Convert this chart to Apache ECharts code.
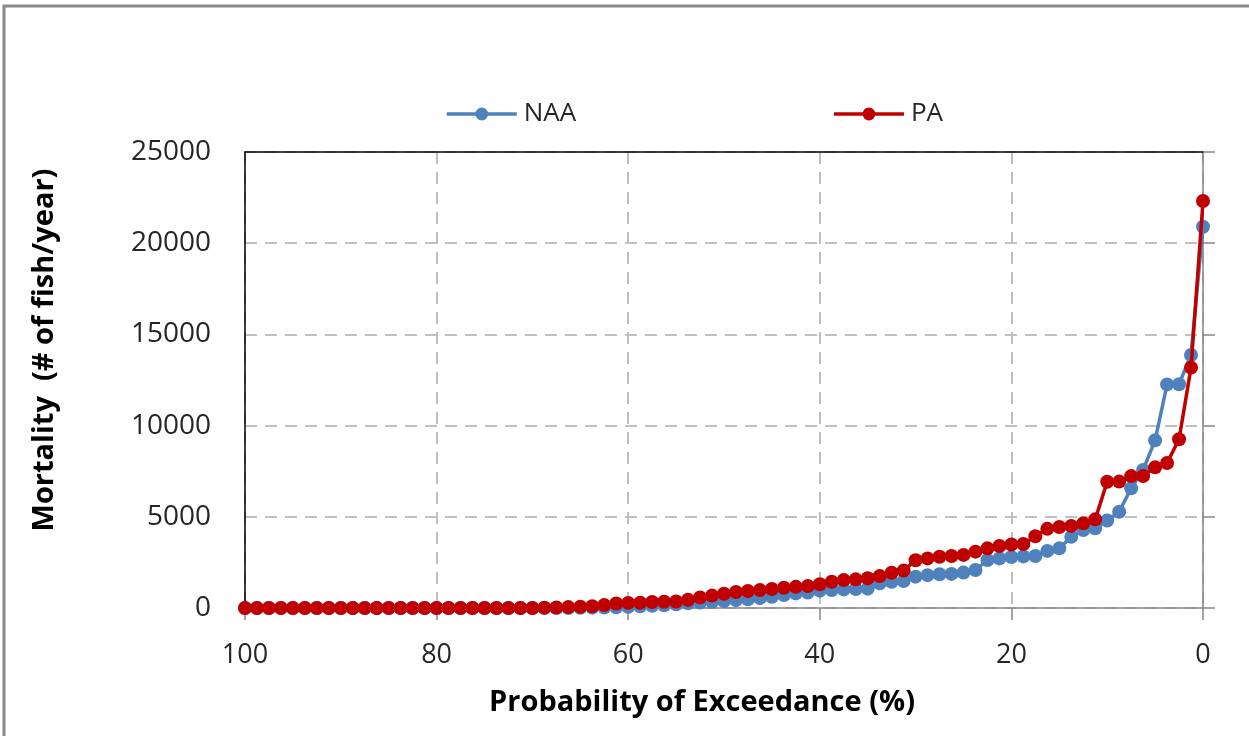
<!DOCTYPE html>
<html>
<head>
<meta charset="utf-8">
<script src="https://cdn.jsdelivr.net/npm/echarts@6/dist/echarts.min.js"></script>
<style>
html,body{margin:0;padding:0;background:#fff;}
#chart{width:1249px;height:736px;}
</style>
</head>
<body>
<div id="chart"></div>
<script>
// Probability of exceedance (%) for each ranked value
const exceedance = [100, 98.75, 97.5, 96.25, 95, 93.75, 92.5, 91.25, 90, 88.75,
  87.5, 86.25, 85, 83.75, 82.5, 81.25, 80, 78.75, 77.5, 76.25,
  75, 73.75, 72.5, 71.25, 70, 68.75, 67.5, 66.25, 65, 63.75,
  62.5, 61.25, 60, 58.75, 57.5, 56.25, 55, 53.75, 52.5, 51.25,
  50, 48.75, 47.5, 46.25, 45, 43.75, 42.5, 41.25, 40, 38.75,
  37.5, 36.25, 35, 33.75, 32.5, 31.25, 30, 28.75, 27.5, 26.25,
  25, 23.75, 22.5, 21.25, 20, 18.75, 17.5, 16.25, 15, 13.75,
  12.5, 11.25, 10, 8.75, 7.5, 6.25, 5, 3.75, 2.5, 1.25, 0];

const naa = [0, 0, 0, 0, 0, 0, 0, 0, 0, 0,
  0, 0, 0, 0, 0, 0, 0, 0, 0, 0,
  0, 0, 0, 0, 0, 0, 0, 0, 10, 20,
  30, 40, 60, 90, 120, 150, 200, 260, 300, 340,
  380, 430, 480, 540, 620, 710, 800, 850, 950, 990,
  1020, 1040, 1060, 1350, 1440, 1480, 1720, 1800, 1850, 1870,
  1940, 2080, 2630, 2720, 2800, 2830, 2850, 3130, 3270, 3900,
  4280, 4370, 4800, 5280, 6560, 7570, 9190, 12260, 12270, 13870,
  20900];

const pa = [0, 0, 0, 0, 0, 0, 0, 0, 0, 0,
  0, 0, 0, 0, 0, 0, 0, 0, 0, 0,
  0, 0, 0, 0, 0, 20, 30, 50, 70, 100,
  160, 250, 280, 290, 330, 345, 360, 450, 580, 680,
  780, 880, 930, 980, 1040, 1110, 1160, 1200, 1300, 1440,
  1530, 1570, 1630, 1750, 1930, 2050, 2620, 2720, 2810, 2850,
  2910, 3090, 3270, 3400, 3480, 3510, 3930, 4340, 4440, 4500,
  4640, 4860, 6920, 6930, 7230, 7240, 7710, 7950, 9250, 13180,
  22310];

const seriesNames = ['NAA', 'PA'];
const xTitle = 'Probability of Exceedance (%)';
const yTitle = 'Mortality  (# of fish/year)';

const chart = echarts.init(document.getElementById('chart'), null, {renderer: 'canvas'});
const font = '"Open Sans", "Liberation Sans", sans-serif';
const pair = (vals) => exceedance.map((x, i) => [x, vals[i]]);
const gridStyle = {color: '#c0c0c0', width: 2, type: [12, 8]};
const xScale = {type: 'value', min: 0, max: 100, interval: 20, inverse: true};
const yScale = {type: 'value', min: 0, max: 25000, interval: 5000};
const off = {axisLine: {show: false}, axisTick: {show: false}, axisLabel: {show: false}, splitLine: {show: false}};
const line = (color) => ({show: true, onZero: false, lineStyle: {color: color, width: 1.5}});

const option = {
  backgroundColor: '#ffffff',
  animation: false,
  graphic: [{
    type: 'rect', z: 100, silent: true,
    shape: {x: 4, y: 6, width: 1400, height: 900},
    style: {fill: 'none', stroke: '#8a8a8a', lineWidth: 3}
  }],
  legend: {
    data: seriesNames,
    left: 440, top: 96,
    itemWidth: 70, itemHeight: 16, itemGap: 256,
    lineStyle: {width: 3.5},
    textStyle: {fontFamily: font, fontSize: 26, color: '#262626', padding: [0, 0, 0, 2]}
  },
  grid: {
    left: 245, top: 152, right: 46, bottom: 128, containLabel: false
  },
  xAxis: [
    // gridlines (underneath)
    Object.assign({}, xScale, off, {position: 'bottom', z: 0,
      splitLine: {show: true, lineStyle: gridStyle}}),
    // bottom axis with labels
    Object.assign({}, xScale, {position: 'bottom', z: 2,
      name: xTitle, nameLocation: 'middle', nameGap: 80,
      nameTextStyle: {fontFamily: font, fontSize: 29, fontWeight: 'bold', color: '#000', padding: [0, 44, 0, 0]},
      axisLine: line('#868686'),
      axisTick: {show: true, length: 12, inside: false, lineStyle: {color: '#868686', width: 1.5}},
      axisLabel: {fontFamily: font, fontSize: 27, color: '#262626', margin: 34},
      splitLine: {show: false}}),
    // top border
    Object.assign({}, xScale, off, {position: 'top', z: 2, axisLine: line('#000')})
  ],
  yAxis: [
    Object.assign({}, yScale, off, {position: 'left', z: 0,
      splitLine: {show: true, lineStyle: gridStyle}}),
    Object.assign({}, yScale, {position: 'left', z: 2,
      name: yTitle, nameLocation: 'middle', nameGap: 186, nameRotate: 90,
      nameTextStyle: {fontFamily: font, fontSize: 29, fontWeight: 'bold', color: '#000', padding: [0, 0, 0, 60]},
      axisLine: line('#000'),
      axisTick: {show: false},
      axisLabel: {fontFamily: font, fontSize: 28, color: '#262626', margin: 34,
        formatter: (v) => String(v)},
      splitLine: {show: false}}),
    Object.assign({}, yScale, off, {position: 'right', z: 2,
      axisLine: line('#868686'),
      axisTick: {show: true, length: 12, inside: false, lineStyle: {color: '#868686', width: 1.5}}})
  ],
  series: [{
    name: seriesNames[0], type: 'line', data: pair(naa),
    xAxisIndex: 1, yAxisIndex: 1,
    symbol: 'circle', symbolSize: 14, showSymbol: true,
    lineStyle: {color: '#4f81bd', width: 3.5},
    itemStyle: {color: '#4f81bd'}, z: 3
  }, {
    name: seriesNames[1], type: 'line', data: pair(pa),
    xAxisIndex: 1, yAxisIndex: 1,
    symbol: 'circle', symbolSize: 14, showSymbol: true,
    lineStyle: {color: '#c00000', width: 3.5},
    itemStyle: {color: '#c00000'}, z: 4
  }]
};
chart.setOption(option);
</script>
</body>
</html>
